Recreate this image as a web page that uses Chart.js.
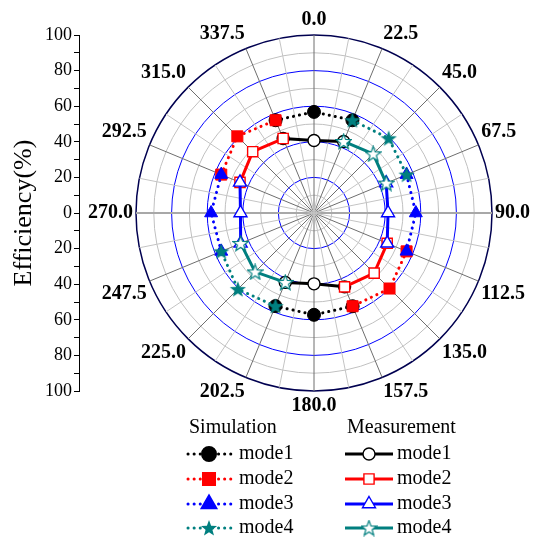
<!DOCTYPE html>
<html>
<head>
<meta charset="utf-8">
<script src="https://cdn.jsdelivr.net/npm/chart.js@4.4.1/dist/chart.umd.min.js"></script>
<style>
  html, body { margin: 0; padding: 0; background: #fff; overflow: hidden; }
  #page { position: relative; width: 542px; height: 540px; overflow: hidden; background: #fff; }
  #polar { position: absolute; left: 58px; top: 8px; }
  #axis { position: absolute; left: 0; top: 0; }
</style>
</head>
<body>
<div id="page">
  <canvas id="polar" width="512" height="410"></canvas>
  <canvas id="axis" width="542" height="540"></canvas>
</div>
<script>
const angleLabels = ['0.0', '22.5', '45.0', '67.5', '90.0', '112.5', '135.0', '157.5',
                     '180.0', '202.5', '225.0', '247.5', '270.0', '292.5', '315.0', '337.5'];

// efficiency (%) per direction, null where the mode is not used
const simMode1  = [56.8, 56.4, null, null, null, null, null, 56.7, 57.2, 56.6, null, null, null, null, null, 56.4];
const simMode2  = [null, null, null, null, null, 56.3, 60.0, 56.7, null, null, null, null, null, 56.4, 60.9, 56.4];
const simMode3  = [null, null, null, 56.3, 57.2, 56.3, null, null, null, null, null, 56.4, 57.8, 56.4, null, null];
const simMode4  = [null, 56.4, 59.3, 56.3, null, null, null, null, null, 56.6, 60.5, 56.4, null, null, null, null];
const measMode1 = [40.7, 43.5, null, null, null, null, null, 44.9, 39.8, 42.2, null, null, null, null, null, 45.3];
const measMode2 = [null, null, null, null, null, 44.5, 47.8, 44.9, null, null, null, null, null, 45.0, 48.7, 45.3];
const measMode3 = [null, null, null, 43.9, 41.6, 44.5, null, null, null, null, null, 44.6, 41.3, 45.0, null, null];
const measMode4 = [null, 43.5, 47.0, 43.9, null, null, null, null, null, 42.2, 46.8, 44.6, null, null, null, null];

const modeNames = ['mode1', 'mode2', 'mode3', 'mode4'];
const teal = '#007f7f';

function starImage(size, fill, stroke, lw) {
    const c = document.createElement('canvas');
    c.width = c.height = size;
    const g = c.getContext('2d');
    const cx = size / 2, cy = size / 2 + 0.6;
    const ro = size / 2 - 0.5, ri = ro * 0.42;
    g.beginPath();
    for (let k = 0; k < 10; k++) {
        const rad = k % 2 ? ri : ro;
        const a = -Math.PI / 2 + k * Math.PI / 5;
        g.lineTo(cx + rad * Math.cos(a), cy + rad * Math.sin(a));
    }
    g.closePath();
    g.fillStyle = fill;
    g.fill();
    if (stroke) {
        g.strokeStyle = stroke;
        g.lineWidth = lw;
        g.stroke();
    }
    return c;
}

const starFilled = starImage(18, teal, null, 0);
const starOpen = starImage(17, '#fff', teal, 1.2);

const modes = [
    { sim: simMode1, meas: measMode1, color: '#000000', simStyle: 'circle',   simR: 6.5, measStyle: 'circle',   measR: 6 },
    { sim: simMode2, meas: measMode2, color: '#ff0000', simStyle: 'rect',     simR: 7.8, measStyle: 'rect',     measR: 7.2 },
    { sim: simMode3, meas: measMode3, color: '#0000ff', simStyle: 'triangle', simR: 7.5, measStyle: 'triangle', measR: 7.5 },
    { sim: simMode4, meas: measMode4, color: teal,      simStyle: starFilled, simR: 8,   measStyle: starOpen,   measR: 8 }
];

const datasets = [];
modes.forEach((m, i) => {
    datasets.push({
        label: 'Simulation ' + modeNames[i],
        data: m.sim,
        borderColor: m.color,
        borderWidth: 3,
        borderDash: [0.1, 6],
        borderCapStyle: 'round',
        pointStyle: m.simStyle,
        pointRadius: m.simR,
        pointHoverRadius: m.simR,
        pointBackgroundColor: m.color,
        pointBorderColor: m.color,
        pointBorderWidth: 1,
        fill: false,
        spanGaps: false,
        order: 8 - i
    });
});
modes.forEach((m, i) => {
    datasets.push({
        label: 'Measurement ' + modeNames[i],
        data: m.meas,
        borderColor: m.color,
        borderWidth: 3,
        pointStyle: m.measStyle,
        pointRadius: m.measR,
        pointHoverRadius: m.measR,
        pointBackgroundColor: '#ffffff',
        pointBorderColor: m.color,
        pointBorderWidth: 1.4,
        fill: false,
        spanGaps: false,
        order: 4 - i
    });
});

// light spokes half way between the labelled directions
const midSpokes = {
    id: 'midSpokes',
    beforeDatasetsDraw(chart) {
        const r = chart.scales.r;
        const ctx = chart.ctx;
        ctx.save();
        ctx.strokeStyle = '#c4c4c4';
        ctx.lineWidth = 1;
        for (let i = 0; i < angleLabels.length; i++) {
            const p = r.getPointPosition(i + 0.5, r.drawingArea);
            ctx.beginPath();
            ctx.moveTo(r.xCenter, r.yCenter);
            ctx.lineTo(p.x, p.y);
            ctx.stroke();
        }
        ctx.restore();
    }
};

const polarChart = new Chart(document.getElementById('polar'), {
    type: 'radar',
    data: { labels: angleLabels, datasets: datasets },
    options: {
        responsive: false,
        animation: false,
        layout: { padding: 0 },
        plugins: { legend: { display: false }, tooltip: { enabled: false } },
        elements: { line: { tension: 0 } },
        scales: {
            r: {
                min: 0,
                max: 100,
                ticks: { display: false, stepSize: 10 },
                grid: {
                    circular: true,
                    color: c => c.tick.value === 100 ? '#000050' : (c.tick.value % 20 === 0 ? '#0000ff' : '#c0c0c0'),
                    lineWidth: c => c.tick.value === 100 ? 1.5 : 1
                },
                angleLines: {
                    color: c => c.index % 8 === 4 ? '#a8a8a8' : '#6e6e6e',
                    lineWidth: c => c.index % 8 === 4 ? 2 : 1
                },
                pointLabels: {
                    padding: 3,
                    color: '#000',
                    font: { family: 'Liberation Serif', size: 20, weight: 'bold' }
                }
            }
        }
    },
    plugins: [midSpokes]
});

// legend: two columns with headings
const legendBox = {
    id: 'legendBox',
    afterDraw(chart) {
        const ctx = chart.ctx;
        const rows = [454, 479, 504, 528];
        ctx.save();
        ctx.fillStyle = '#000';
        ctx.font = '20px "Liberation Serif"';
        ctx.textBaseline = 'middle';
        ctx.textAlign = 'left';
        ctx.fillText('Simulation', 189, 428);
        ctx.fillText('Measurement', 347, 428);
        modes.forEach((m, i) => {
            const y = rows[i];
            // simulation: dotted line + filled marker
            ctx.strokeStyle = m.color;
            ctx.lineWidth = 3;
            ctx.lineCap = 'round';
            ctx.setLineDash([0.1, 6]);
            ctx.beginPath();
            ctx.moveTo(188, y);
            ctx.lineTo(232, y);
            ctx.stroke();
            ctx.setLineDash([]);
            ctx.fillStyle = m.color;
            Chart.helpers.drawPoint(ctx, { pointStyle: m.simStyle, radius: m.simR, borderWidth: 1, rotation: 0 }, 209, y);
            // measurement: solid line + open marker
            ctx.lineCap = 'butt';
            ctx.beginPath();
            ctx.moveTo(345, y);
            ctx.lineTo(393, y);
            ctx.stroke();
            ctx.fillStyle = '#fff';
            ctx.lineWidth = 1.4;
            Chart.helpers.drawPoint(ctx, { pointStyle: m.measStyle, radius: m.measR, borderWidth: 1.4, rotation: 0 }, 369, y);
            ctx.fillStyle = '#000';
            ctx.fillText(modeNames[i], 239, y);
            ctx.fillText(modeNames[i], 397, y);
        });
        ctx.restore();
    }
};

const r = polarChart.scales.r;
const axisTop = 8 + r.yCenter - r.drawingArea;
const axisBottom = 8 + r.yCenter + r.drawingArea;

new Chart(document.getElementById('axis'), {
    type: 'scatter',
    data: { datasets: [] },
    options: {
        responsive: false,
        animation: false,
        layout: { padding: { top: axisTop, bottom: 540 - axisBottom, left: 0, right: 0 } },
        plugins: { legend: { display: false }, tooltip: { enabled: false } },
        scales: {
            x: { display: false },
            y: {
                position: 'left',
                min: -100,
                max: 100,
                afterFit: s => { s.width = 79; },
                ticks: {
                    stepSize: 10,
                    autoSkip: false,
                    padding: 2,
                    color: '#000',
                    font: { family: 'Liberation Serif', size: 18 },
                    callback: v => v % 20 === 0 ? String(Math.abs(v)) : ''
                },
                grid: { drawOnChartArea: false, tickLength: 5, tickColor: '#000', color: '#000' },
                border: { display: true, color: '#000', width: 1 },
                title: {
                    display: true,
                    text: 'Efficiency(%)',
                    color: '#000',
                    font: { family: 'Liberation Serif', size: 26 },
                    padding: { top: 9, bottom: 0 }
                }
            }
        }
    },
    plugins: [legendBox]
});
</script>
</body>
</html>
